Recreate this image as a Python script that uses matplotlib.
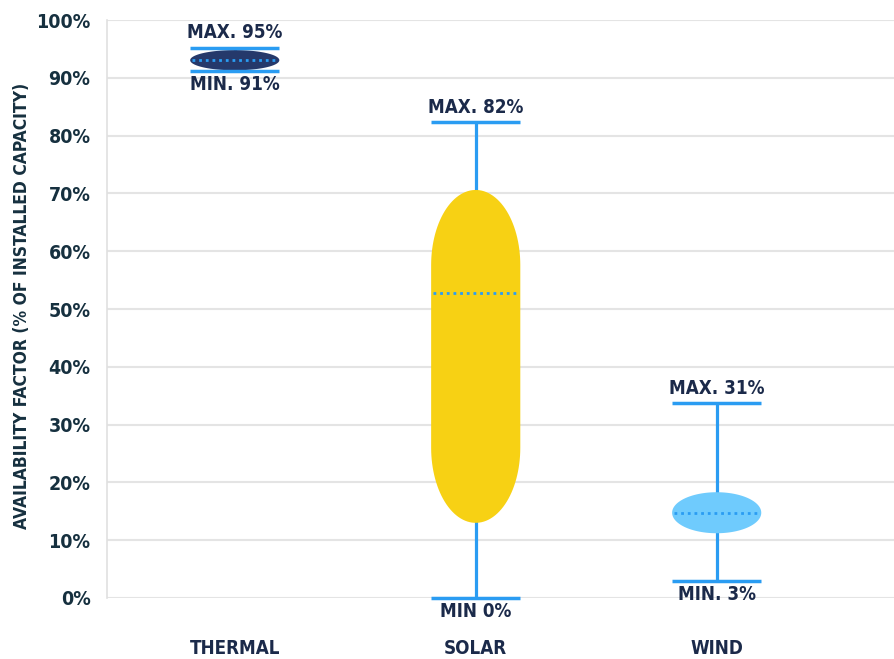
import matplotlib.pyplot as plt
from matplotlib.path import Path
from matplotlib.patches import PathPatch
import numpy as np

categories = ["THERMAL", "SOLAR", "WIND"]
whisker_min = [91.2, 0.0, 2.9]
whisker_max = [95.2, 82.3, 33.7]
box_low = [91.3, 13.0, 11.2]
box_high = [94.8, 70.6, 18.3]
medians = [93.0, 52.8, 14.7]
max_labels = ["MAX. 95%", "MAX. 82%", "MAX. 31%"]
min_labels = ["MIN. 91%", "MIN 0%", "MIN. 3%"]
box_colors = ["#25396b", "#f7d114", "#6fcbfd"]

BLUE = "#2a9cf2"
NAVY = "#1b2a4a"
plt.rcParams["font.family"] = ["DejaVu Sans"]
plt.rcParams["font.stretch"] = "condensed"
plt.rcParams["font.weight"] = "bold"


def stadium(xc, lo, hi, hw, r):
    # rounded box with elliptical ends, in data coordinates
    r = min(r, (hi - lo) / 2)
    t = np.linspace(0, np.pi, 60)
    top = np.column_stack([xc + hw * np.cos(t), hi - r + r * np.sin(t)])
    bot = np.column_stack([xc - hw * np.cos(t), lo + r - r * np.sin(t)])
    pts = np.vstack([top, bot, top[:1]])
    codes = [Path.MOVETO] + [Path.LINETO] * (len(pts) - 2) + [Path.CLOSEPOLY]
    return Path(pts, codes)


fig = plt.figure(figsize=(8.95, 6.59), dpi=100)
ax = fig.add_axes([0.1196, 0.0926, 0.8804, 0.877])

ax.set_xlim(-0.53, 2.74)
ax.set_ylim(0, 100)
ax.set_yticks(range(0, 101, 10))
ax.set_yticklabels([f"{v}%" for v in range(0, 101, 10)], fontsize=14,
                   color="#16303f", fontweight="bold", fontstretch="condensed")
ax.set_xticks([])
ax.grid(axis="y", color="#e4e4e4", lw=1.5, zorder=0)
ax.tick_params(axis="y", length=0, pad=12)
for s in ["top", "right", "bottom"]:
    ax.spines[s].set_visible(False)
ax.spines["left"].set_color("#e0e0e0")
ax.spines["left"].set_linewidth(1.2)
ax.set_ylabel("AVAILABILITY FACTOR (% OF INSTALLED CAPACITY)", fontsize=12.5,
              color="#16303f", fontweight="bold", fontstretch="condensed")
ax.yaxis.set_label_coords(-0.096, 0.505)

hw = 0.185
for i, cat in enumerate(categories):
    ax.plot([i, i], [whisker_min[i], whisker_max[i]], color=BLUE, lw=2.3,
            zorder=2, solid_capstyle="butt", clip_on=False)
    for yv in (whisker_min[i], whisker_max[i]):
        ax.plot([i - hw, i + hw], [yv, yv], color=BLUE, lw=2.5, zorder=4,
                solid_capstyle="butt", clip_on=False)
    ax.add_patch(PathPatch(stadium(i, box_low[i], box_high[i], hw, 13.0),
                           facecolor=box_colors[i], edgecolor="none", zorder=3))
    ax.plot([i - hw * 0.95, i + hw * 0.95], [medians[i], medians[i]],
            color=BLUE, lw=2, ls=(0, (1, 1.4)), zorder=5)
    ax.annotate(max_labels[i], (i, whisker_max[i]), xytext=(0, 4),
                textcoords="offset points", ha="center", va="bottom",
                fontsize=13.5, color=NAVY, fontweight="bold",
                fontstretch="condensed")
    ax.annotate(min_labels[i], (i, whisker_min[i]), xytext=(0, -3),
                textcoords="offset points", ha="center", va="top",
                fontsize=13.5, color=NAVY, fontweight="bold",
                fontstretch="condensed")
    ax.text(i, -8.7, cat, ha="center", va="center", fontsize=13.5,
            color=NAVY, fontweight="bold", fontstretch="condensed",
            clip_on=False)

fig.savefig("out.png", dpi=100)
